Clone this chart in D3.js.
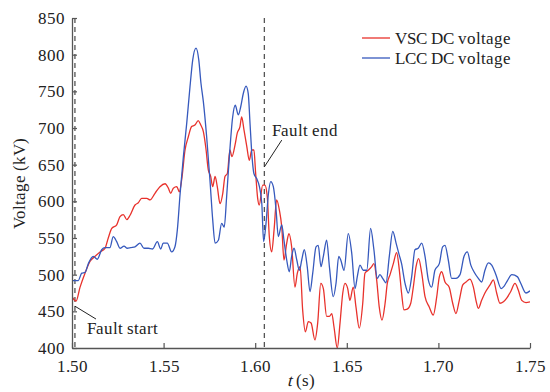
<!DOCTYPE html>
<html>
<head>
<meta charset="utf-8">
<script src="https://cdn.jsdelivr.net/npm/d3@7"></script>
<style>
  @font-face { font-family: "ChartSerif"; src: local("Liberation Serif"), local("LiberationSerif"), local("Tinos"); }
</style>
</head>
<body style="margin:0">
<script>
// series labels
const seriesNames = ["VSC DC voltage", "LCC DC voltage"];
const seriesColors = ["#e8322c", "#3659bd"];

// tick values
const xTicks = [1.50, 1.55, 1.60, 1.65, 1.70, 1.75];
const yTicks = [400, 450, 500, 550, 600, 650, 700, 750, 800, 850];

// fault instants (s)
const faultStart = 1.5016;
const faultEnd = 1.605;

// VSC DC voltage, [t (s), kV]
const vscData = [
  [1.5000, 470], [1.5022, 464], [1.5044, 483], [1.5071, 502], [1.5098, 518], [1.5126, 525],
  [1.5153, 531], [1.5180, 536], [1.5198, 550], [1.5217, 563], [1.5244, 568], [1.5262, 579],
  [1.5280, 582], [1.5299, 575], [1.5317, 581], [1.5344, 595], [1.5362, 598], [1.5380, 604],
  [1.5408, 604], [1.5426, 602], [1.5453, 611], [1.5480, 620], [1.5508, 624], [1.5526, 618],
  [1.5539, 611], [1.5553, 618], [1.5572, 620], [1.5586, 613], [1.5599, 630], [1.5617, 670],
  [1.5635, 688], [1.5653, 702], [1.5671, 704], [1.5689, 710], [1.5703, 704], [1.5717, 695],
  [1.5731, 672], [1.5744, 643], [1.5757, 634], [1.5768, 620], [1.5781, 634], [1.5793, 620],
  [1.5808, 597], [1.5823, 611], [1.5835, 634], [1.5848, 638], [1.5862, 670], [1.5873, 661],
  [1.5890, 677], [1.5902, 693], [1.5917, 702], [1.5926, 715], [1.5939, 697], [1.5954, 675],
  [1.5968, 656], [1.5981, 670], [1.5993, 670], [1.6002, 640], [1.6013, 605], [1.6022, 595],
  [1.6041, 622], [1.6053, 622], [1.6066, 606], [1.6077, 552], [1.6090, 531], [1.6103, 561],
  [1.6117, 602], [1.6132, 588], [1.6145, 565], [1.6157, 520], [1.6172, 543], [1.6184, 556],
  [1.6199, 538], [1.6217, 483], [1.6230, 502], [1.6245, 511], [1.6259, 452], [1.6274, 422],
  [1.6290, 436], [1.6305, 434], [1.6326, 411], [1.6341, 434], [1.6358, 488], [1.6372, 481],
  [1.6390, 443], [1.6405, 443], [1.6418, 447], [1.6430, 429], [1.6448, 400], [1.6463, 434],
  [1.6478, 475], [1.6490, 488], [1.6505, 481], [1.6517, 465], [1.6535, 483], [1.6550, 456],
  [1.6568, 427], [1.6587, 461], [1.6599, 502], [1.6617, 506], [1.6636, 511], [1.6648, 515],
  [1.6663, 493], [1.6677, 456], [1.6692, 438], [1.6709, 461], [1.6721, 488], [1.6736, 500],
  [1.6754, 515], [1.6772, 530], [1.6786, 508], [1.6799, 475], [1.6812, 452], [1.6830, 453],
  [1.6849, 461], [1.6863, 483], [1.6878, 511], [1.6892, 522], [1.6909, 502], [1.6927, 470],
  [1.6950, 456], [1.6972, 445], [1.6991, 470], [1.7005, 497], [1.7018, 504], [1.7036, 490],
  [1.7059, 483], [1.7078, 461], [1.7096, 447], [1.7114, 465], [1.7133, 486], [1.7151, 490],
  [1.7172, 494], [1.7191, 483], [1.7205, 465], [1.7218, 454], [1.7236, 465], [1.7254, 475],
  [1.7282, 486], [1.7300, 493], [1.7318, 475], [1.7336, 461], [1.7355, 463], [1.7373, 468],
  [1.7395, 477], [1.7418, 488], [1.7436, 479], [1.7455, 465], [1.7478, 462], [1.7500, 463]
];

// LCC DC voltage, [t (s), kV]
const lccData = [
  [1.5000, 492], [1.5034, 492], [1.5053, 502], [1.5071, 503], [1.5089, 515], [1.5116, 525],
  [1.5138, 521], [1.5162, 534], [1.5180, 537], [1.5207, 537], [1.5225, 552], [1.5244, 545],
  [1.5262, 536], [1.5284, 539], [1.5302, 536], [1.5320, 537], [1.5344, 538], [1.5371, 543],
  [1.5393, 536], [1.5416, 536], [1.5440, 535], [1.5466, 545], [1.5484, 535], [1.5498, 543],
  [1.5520, 543], [1.5544, 531], [1.5562, 538], [1.5575, 561], [1.5590, 610], [1.5608, 661],
  [1.5626, 706], [1.5644, 756], [1.5659, 793], [1.5677, 809], [1.5692, 793], [1.5704, 761],
  [1.5717, 736], [1.5735, 688], [1.5753, 629], [1.5768, 575], [1.5781, 543], [1.5799, 547],
  [1.5817, 570], [1.5831, 565], [1.5844, 606], [1.5859, 661], [1.5877, 715], [1.5891, 731],
  [1.5908, 718], [1.5921, 729], [1.5935, 747], [1.5950, 757], [1.5962, 747], [1.5972, 705],
  [1.5983, 660], [1.5993, 638], [1.6008, 631], [1.6023, 620], [1.6036, 597], [1.6046, 545],
  [1.6059, 570], [1.6072, 610], [1.6085, 627], [1.6099, 620], [1.6114, 588], [1.6126, 552],
  [1.6145, 568], [1.6157, 547], [1.6172, 520], [1.6186, 504], [1.6199, 525], [1.6212, 536],
  [1.6227, 520], [1.6241, 506], [1.6254, 520], [1.6268, 534], [1.6284, 511], [1.6299, 477],
  [1.6314, 502], [1.6332, 538], [1.6344, 540], [1.6359, 511], [1.6372, 525], [1.6390, 547],
  [1.6405, 511], [1.6426, 470], [1.6441, 488], [1.6456, 525], [1.6467, 520], [1.6485, 506],
  [1.6508, 556], [1.6527, 529], [1.6545, 481], [1.6557, 497], [1.6572, 513], [1.6590, 506],
  [1.6609, 506], [1.6630, 563], [1.6648, 534], [1.6666, 495], [1.6681, 500], [1.6696, 495],
  [1.6714, 489], [1.6732, 525], [1.6751, 559], [1.6769, 543], [1.6786, 527], [1.6799, 515],
  [1.6818, 488], [1.6836, 475], [1.6854, 497], [1.6872, 534], [1.6890, 536], [1.6909, 543],
  [1.6927, 525], [1.6945, 493], [1.6963, 483], [1.6981, 506], [1.7005, 515], [1.7023, 538],
  [1.7036, 540], [1.7054, 520], [1.7072, 495], [1.7096, 495], [1.7118, 500], [1.7140, 525],
  [1.7158, 531], [1.7177, 513], [1.7194, 504], [1.7218, 495], [1.7236, 490], [1.7254, 506],
  [1.7273, 516], [1.7291, 513], [1.7314, 500], [1.7343, 481], [1.7358, 484], [1.7377, 492],
  [1.7401, 500], [1.7432, 497], [1.7450, 488], [1.7478, 475], [1.7500, 478]
];

const width = 550, height = 392;
const margin = { top: 18, right: 20, bottom: 44, left: 72 };
const axisColor = "#555";
const textColor = "#222";
const serif = '"ChartSerif", "Liberation Serif", "Times New Roman", Tinos, serif';

const svg = d3.select("body").append("svg")
  .attr("width", width)
  .attr("height", height)
  .style("font-family", serif);

const x = d3.scaleLinear().domain([1.50, 1.75]).range([margin.left, width - margin.right]);
const y = d3.scaleLinear().domain([400, 850]).range([height - margin.bottom, margin.top]);

// fault markers
[faultStart, faultEnd].forEach(t => {
  svg.append("line")
    .attr("x1", x(t)).attr("x2", x(t))
    .attr("y1", y(850)).attr("y2", y(400))
    .attr("stroke", "#555")
    .attr("stroke-width", 1.3)
    .attr("stroke-dasharray", "5,4");
});

// curves
const line = d3.line()
  .x(d => x(d[0]))
  .y(d => y(d[1]))
  .curve(d3.curveMonotoneX);

svg.append("defs").append("clipPath").attr("id", "plot")
  .append("rect")
  .attr("x", margin.left).attr("y", margin.top - 2)
  .attr("width", width - margin.left - margin.right)
  .attr("height", height - margin.top - margin.bottom + 2);

const lines = svg.append("g").attr("clip-path", "url(#plot)").style("fill", "none");
[vscData, lccData].forEach((data, i) => {
  lines.append("path")
    .attr("d", line(data))
    .attr("stroke", seriesColors[i])
    .attr("stroke-width", 1.3);
});

// axes
const xAxis = svg.append("g")
  .attr("transform", `translate(0,${y(400)})`)
  .call(d3.axisBottom(x).tickValues(xTicks).tickFormat(d3.format(".2f")).tickSizeInner(-5).tickSizeOuter(0).tickPadding(12));

const yAxis = svg.append("g")
  .attr("transform", `translate(${x(1.50)},0)`)
  .call(d3.axisLeft(y).tickValues(yTicks).tickSizeInner(-5).tickSizeOuter(0).tickPadding(7));

[xAxis, yAxis].forEach(a => {
  a.attr("font-family", null).attr("font-size", null);
  a.select(".domain").attr("stroke", axisColor).attr("stroke-width", 1.3);
  a.selectAll(".tick line").attr("stroke", axisColor).attr("stroke-width", 1.2);
  a.selectAll(".tick text")
    .style("font-family", serif)
    .attr("font-size", 17)
    .attr("fill", textColor);
});
xAxis.selectAll(".tick text").attr("dy", "0.72em");

// axis titles
svg.append("text")
  .attr("transform", `translate(25,${(y(850) + y(400)) / 2}) rotate(-90)`)
  .attr("text-anchor", "middle")
  .style("font-family", serif)
  .attr("font-size", 17)
  .attr("fill", textColor)
  .text("Voltage (kV)");

const xTitle = svg.append("text")
  .attr("x", (x(1.50) + x(1.75)) / 2)
  .attr("y", height - 6)
  .attr("text-anchor", "middle")
  .style("font-family", serif)
  .attr("font-size", 17)
  .attr("fill", textColor);
xTitle.append("tspan").attr("font-style", "italic").text("t");
xTitle.append("tspan").text(" (s)");

// annotations
svg.append("line")
  .attr("x1", x(faultStart)).attr("y1", y(457))
  .attr("x2", x(1.5131)).attr("y2", y(439.5))
  .attr("stroke", textColor).attr("stroke-width", 1);
svg.append("text")
  .attr("x", x(1.5084)).attr("y", y(419))
  .style("font-family", serif)
  .attr("font-size", 17)
  .attr("fill", textColor)
  .text("Fault start");

svg.append("line")
  .attr("x1", x(faultEnd)).attr("y1", y(647))
  .attr("x2", x(1.6145)).attr("y2", y(683.5))
  .attr("stroke", textColor).attr("stroke-width", 1);
svg.append("text")
  .attr("x", x(1.6090)).attr("y", y(689))
  .style("font-family", serif)
  .attr("font-size", 17)
  .attr("fill", textColor)
  .text("Fault end");

// legend
const legend = svg.selectAll(".legend")
  .data(seriesNames)
  .enter().append("g")
  .attr("class", "legend")
  .attr("transform", (d, i) => `translate(362,${38 + i * 20})`);

legend.append("line")
  .attr("x1", 0).attr("x2", 28)
  .attr("stroke", (d, i) => seriesColors[i])
  .attr("stroke-width", 1.3);

legend.append("text")
  .attr("x", 33)
  .attr("y", 6)
  .style("font-family", serif)
  .attr("font-size", 17)
  .attr("fill", textColor)
  .text(d => d);
</script>
</body>
</html>
